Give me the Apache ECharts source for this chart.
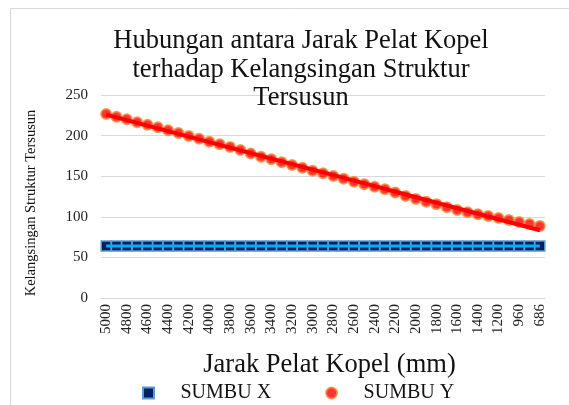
<!DOCTYPE html>
<html>
<head>
<meta charset="utf-8">
<script src="https://cdn.jsdelivr.net/npm/echarts@6/dist/echarts.min.js"></script>
<style>
html,body{margin:0;padding:0;background:#fff;}
#chart{width:569px;height:405px;}
</style>
</head>
<body>
<div id="chart"></div>
<script>
var categories = ['5000','4900','4800','4700','4600','4500','4400','4300','4200','4100','4000','3900','3800','3700','3600','3500','3400','3300','3200','3100','3000','2900','2800','2700','2600','2500','2400','2300','2200','2100','2000','1900','1800','1700','1600','1500','1400','1300','1200','1100','960','820','686'];
var sumbuX = [64,64,64,64,64,64,64,64,64,64,64,64,64,64,64,64,64,64,64,64,64,64,64,64,64,64,64,64,64,64,64,64,64,64,64,64,64,64,64,64,64,64,64];
var sumbuY = [226.6,223.3,220.1,216.4,213.4,210.2,206.5,203.2,199.5,196.2,192.5,189.3,186.0,182.3,178.0,174.0,170.8,167.1,163.8,160.5,156.8,153.6,150.2,147.0,143.2,140.1,137.1,133.9,129.8,125.6,121.9,118.6,115.4,111.7,108.4,105.5,103.0,101.0,98.5,96.1,93.6,91.1,88.7];
var yTicks = {min:0, max:250, interval:50};
var titleText = 'Hubungan antara Jarak Pelat Kopel\nterhadap Kelangsingan Struktur\nTersusun';
var yName = 'Kelangsingan Struktur Tersusun';
var xName = 'Jarak Pelat Kopel (mm)';

// linear trendline (least squares) of SUMBU Y
var n = sumbuY.length, sx=0, sy=0, sxx=0, sxy=0;
for (var i=0;i<n;i++){sx+=i;sy+=sumbuY[i];sxx+=i*i;sxy+=i*sumbuY[i];}
var slope=(n*sxy-sx*sy)/(n*sxx-sx*sx), inter=(sy-slope*sx)/n;
var trend=[]; for (var j=0;j<n;j++){trend.push(+(inter+slope*j).toFixed(2));}

var font='Liberation Serif';
var chart = echarts.init(document.getElementById('chart'));
chart.setOption({
  animation:false,
  backgroundColor:'#fff',
  graphic:[
    {type:'rect',left:8,top:6,shape:{width:700,height:600},style:{fill:'none',stroke:'#D9D9D9',lineWidth:1},silent:true,z:-10},
    {type:'text',x:31,y:203,rotation:Math.PI/2,silent:true,
      style:{text:yName,fontFamily:font,fontSize:14.5,fill:'#111',align:'center',verticalAlign:'middle'}}
  ],
  title:{text:titleText,left:296,top:22,textAlign:'center',
    textStyle:{fontFamily:font,fontSize:26.5,fontWeight:'normal',color:'#111',lineHeight:28.5}},
  legend:{left:137,top:378,itemWidth:54,itemHeight:11,itemGap:54,
    textStyle:{fontFamily:font,fontSize:20,color:'#111'},
    data:[{name:'SUMBU X',icon:'path://M0,0L10,0L10,10L0,10Z'},{name:'SUMBU Y',icon:'circle'}]},
  grid:{left:101,right:24,top:95,bottom:107,containLabel:false},
  xAxis:{type:'category',data:categories,boundaryGap:true,
    axisLine:{lineStyle:{color:'#D9D9D9'}},axisTick:{show:false},
    axisLabel:{interval:1,rotate:90,margin:6,fontFamily:font,fontSize:15,color:'#222'},
    name:xName,nameLocation:'middle',nameGap:54,
    nameTextStyle:{fontFamily:font,fontSize:26.5,color:'#111',padding:[0,0,0,13]}},
  yAxis:{type:'value',min:yTicks.min,max:yTicks.max,interval:yTicks.interval,
    axisLine:{show:false},axisTick:{show:false},
    splitLine:{lineStyle:{color:'#D9D9D9',width:1}},
    axisLabel:{margin:13,fontFamily:font,fontSize:15,color:'#222'}},
  series:[
    {name:'SUMBU X',type:'line',data:sumbuX,symbol:'rect',symbolSize:10,showAllSymbol:true,
      itemStyle:{color:'#002060',borderColor:'#5B9BD5',borderWidth:1.5},
      lineStyle:{color:'#00B0F0',width:3},z:2},
    {name:'SUMBU X line',type:'line',data:sumbuX,symbol:'none',silent:true,
      lineStyle:{color:'#00B0F0',width:3},z:3},
    {name:'SUMBU Y',type:'scatter',data:sumbuY,symbol:'circle',symbolSize:10,
      itemStyle:{color:'#FF0000',borderColor:'#F08A3C',borderWidth:2},z:4},
    {name:'Trend',type:'line',data:trend,symbol:'none',silent:true,
      lineStyle:{color:'#FF0000',width:4},z:5}
  ]
});
</script>
</body>
</html>
